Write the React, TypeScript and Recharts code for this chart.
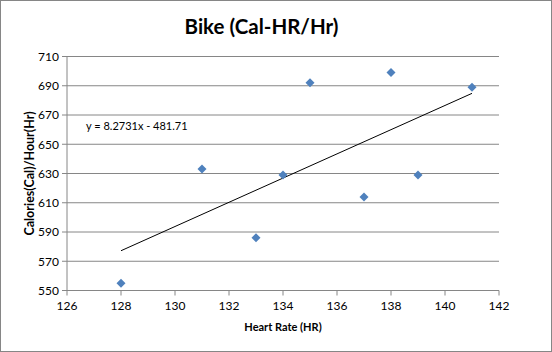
import React from "react";
import {
  ScatterChart,
  Scatter,
  XAxis,
  YAxis,
  CartesianGrid,
} from "recharts";

const heartRate = [128, 131, 133, 134, 135, 137, 138, 139, 141];
const calories = [555, 633, 586, 629, 692, 614, 699, 629, 689];
const trendX = [128, 141];
const trendY = [577.2, 684.8];
const xTicks = [126, 128, 130, 132, 134, 136, 138, 140, 142];
const yTicks = [550, 570, 590, 610, 630, 650, 670, 690, 710];
const title = "Bike (Cal-HR/Hr)";
const xLabel = "Heart Rate (HR)";
const yLabel = "Calories(Cal)/Hour(Hr)";
const equation = "y = 8.2731x - 481.71";

const points = heartRate.map((x, i) => ({ x, y: calories[i] }));
const trend = trendX.map((x, i) => ({ x, y: trendY[i] }));

const FONT = "Lato, 'Open Sans', sans-serif";
const GRID = "#868686";

const Diamond = (props: any) => {
  const { cx, cy } = props;
  if (cx == null || cy == null) return null;
  const r = 4.5;
  return (
    <polygon
      points={`${cx},${cy - r} ${cx + r},${cy} ${cx},${cy + r} ${cx - r},${cy}`}
      fill="#4F81BD"
    />
  );
};

const Empty = () => null;

export default function App() {
  return (
    <div
      style={{
        position: "absolute",
        left: 0,
        top: 0,
        width: 552,
        height: 352,
        background: "#fff",
        fontFamily: FONT,
      }}
    >
      <div
        style={{
          position: "absolute",
          left: 0,
          top: 0,
          width: 552,
          height: 352,
          boxSizing: "border-box",
          border: "1px solid #868686",
        }}
      />
      <div
        style={{
          position: "absolute",
          left: 0,
          top: 12,
          width: 523,
          textAlign: "center",
          fontWeight: 700,
          fontSize: 20.5,
          lineHeight: "28px",
          color: "#000",
        }}
      >
        {title}
      </div>
      <div
        style={{
          position: "absolute",
          left: 86,
          top: 119,
          fontSize: 11,
          lineHeight: "14px",
          color: "#000",
        }}
      >
        {equation}
      </div>
      <ScatterChart
        width={552}
        height={352}
        margin={{ top: 56.5, right: 53, bottom: 16, left: 22 }}
        style={{ position: "absolute", left: 0, top: 0 }}
      >
        <CartesianGrid vertical={false} stroke={GRID} strokeWidth={1} />
        <XAxis
          type="number"
          dataKey="x"
          domain={[126, 142]}
          ticks={xTicks}
          interval={0}
          stroke={GRID}
          tickLine={{ stroke: GRID }}
          tickSize={5}
          tickMargin={6}
          tick={{ fill: "#000", fontSize: 12, fontFamily: FONT }}
          height={45.5}
          label={{
            value: xLabel,
            position: "insideBottom",
            offset: 5,
            fill: "#000",
            fontSize: 11,
            fontWeight: 700,
            fontFamily: FONT,
          }}
        />
        <YAxis
          type="number"
          dataKey="y"
          domain={[550, 710]}
          ticks={yTicks}
          interval={0}
          stroke={GRID}
          tickLine={{ stroke: GRID }}
          tickSize={5}
          tickMargin={3}
          tick={{ fill: "#000", fontSize: 12, fontFamily: FONT }}
          width={45}
          label={{
            value: yLabel,
            angle: -90,
            position: "insideLeft",
            offset: 8,
            fill: "#000",
            fontSize: 12.5,
            fontWeight: 700,
            fontFamily: FONT,
            style: { textAnchor: "middle" },
          }}
        />
        <Scatter
          data={trend}
          line={{ stroke: "#000", strokeWidth: 1 }}
          shape={<Empty />}
          isAnimationActive={false}
        />
        <Scatter data={points} shape={<Diamond />} isAnimationActive={false} />
      </ScatterChart>
    </div>
  );
}
